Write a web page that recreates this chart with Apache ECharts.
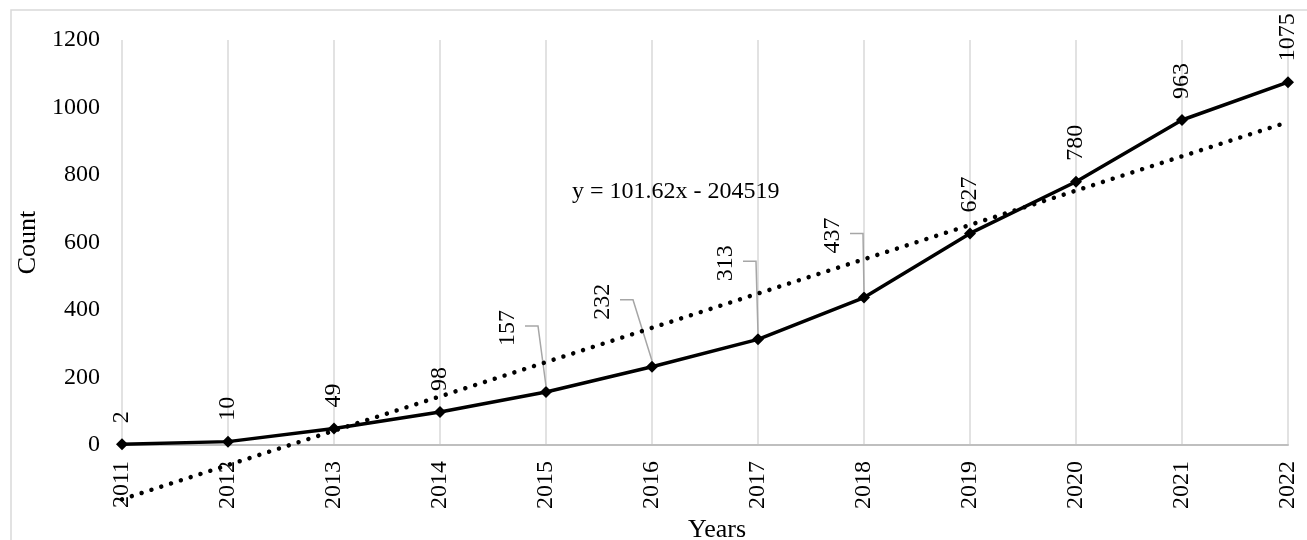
<!DOCTYPE html>
<html>
<head>
<meta charset="utf-8">
<script src="https://cdn.jsdelivr.net/npm/echarts@6/dist/echarts.min.js"></script>
<style>
html, body { margin: 0; padding: 0; background: #fff; }
#chart { width: 1307px; height: 540px; }
</style>
</head>
<body>
<div id="chart"></div>
<script>
// ---- data ----
const years = ['2011', '2012', '2013', '2014', '2015', '2016', '2017', '2018', '2019', '2020', '2021', '2022'];
const counts = [2, 10, 49, 98, 157, 232, 313, 437, 627, 780, 963, 1075];
const trendValues = [-161, 957]; // linear trend at 2011 and 2022
const equationText = 'y = 101.62x - 204519';
const yMin = 0, yMax = 1200, yInterval = 200;

// ---- layout (not data) ----
const FONT = 'Liberation Serif, Times New Roman, serif';
const FS = 24;      // tick / data labels
const FS_NAME = 26; // axis titles
const LABEL_DIST = 15;
// screen shift [x, y] (px) of the data labels that have leader lines
const leaderShift = { 4: [-38, -25], 5: [-49, -26], 6: [-32, -37], 7: [-31, -23] };
const leaderIdx = Object.keys(leaderShift).map(Number);

const chart = echarts.init(document.getElementById('chart'), null, { renderer: 'canvas' });

chart.setOption({
  backgroundColor: '#fff',
  animation: false,
  grid: { left: 122, right: 19, top: 40, bottom: 95, outerBoundsMode: 'none', containLabel: false },
  graphic: [
    { type: 'rect', shape: { x: 11, y: 10, width: 1320, height: 560 }, style: { fill: 'none', stroke: '#d9d9d9', lineWidth: 1.5 }, silent: true, z: -10 },
    { type: 'text', x: 572, y: 192, style: { text: equationText, font: FS + 'px ' + FONT, fill: '#000', verticalAlign: 'middle' }, silent: true, z: 10 }
  ],
  xAxis: {
    type: 'category',
    data: years,
    boundaryGap: false,
    axisLine: { lineStyle: { color: '#bfbfbf', width: 2 } },
    axisTick: { show: false },
    splitLine: { show: true, lineStyle: { color: '#d9d9d9', width: 1.5 } },
    axisLabel: { interval: 0, rotate: 90, margin: 16, fontFamily: FONT, fontSize: FS, color: '#000' },
    name: 'Years',
    nameLocation: 'middle',
    nameGap: 71,
    nameTextStyle: { fontFamily: FONT, fontSize: FS_NAME, color: '#000', padding: [0, 0, 0, 24] }
  },
  yAxis: {
    type: 'value',
    min: yMin, max: yMax, interval: yInterval,
    axisLine: { show: false },
    axisTick: { show: false },
    splitLine: { show: false },
    axisLabel: { margin: 22, fontFamily: FONT, fontSize: FS, color: '#000', formatter: v => String(v) },
    name: 'Count',
    nameLocation: 'middle',
    nameGap: 72,
    nameRotate: 90,
    nameTextStyle: { fontFamily: FONT, fontSize: FS_NAME, color: '#000' }
  },
  series: [
    {
      type: 'line',
      data: counts,
      symbol: 'diamond',
      symbolSize: 12,
      lineStyle: { color: '#000', width: 3.5 },
      itemStyle: { color: '#000' },
      z: 3,
      label: {
        show: true, position: 'top', distance: LABEL_DIST, rotate: 90,
        align: 'left', verticalAlign: 'middle',
        fontFamily: FONT, fontSize: FS, color: '#000'
      },
      labelLayout: function (p) {
        const s = leaderShift[p.dataIndex];
        if (!s) return {};
        // offset is applied in the label's rotated (90deg) frame
        return { dx: -s[1], dy: s[0] };
      }
    },
    {
      // leader lines for the shifted labels, positioned through the axes
      type: 'custom',
      data: leaderIdx.map(i => [i, counts[i]]),
      silent: true,
      z: 2,
      renderItem: function (params, api) {
        const i = api.value(0);
        const pt = api.coord([i, api.value(1)]);
        const s = leaderShift[i];
        const y = pt[1] + s[1] - LABEL_DIST - 26;
        const x0 = pt[0] + s[0] + 17;
        return {
          type: 'polyline',
          shape: { points: [[x0, y], [x0 + 13, y], [pt[0], pt[1] - 6]] },
          style: { stroke: '#a6a6a6', lineWidth: 1.5, fill: 'none' }
        };
      }
    },
    {
      type: 'line',
      data: [[0, trendValues[0]], [years.length - 1, trendValues[1]]],
      symbol: 'none',
      clip: false,
      silent: true,
      z: 4,
      lineStyle: { color: '#000', width: 4.5, type: [0.01, 10.3], cap: 'round' }
    }
  ]
});
</script>
</body>
</html>
